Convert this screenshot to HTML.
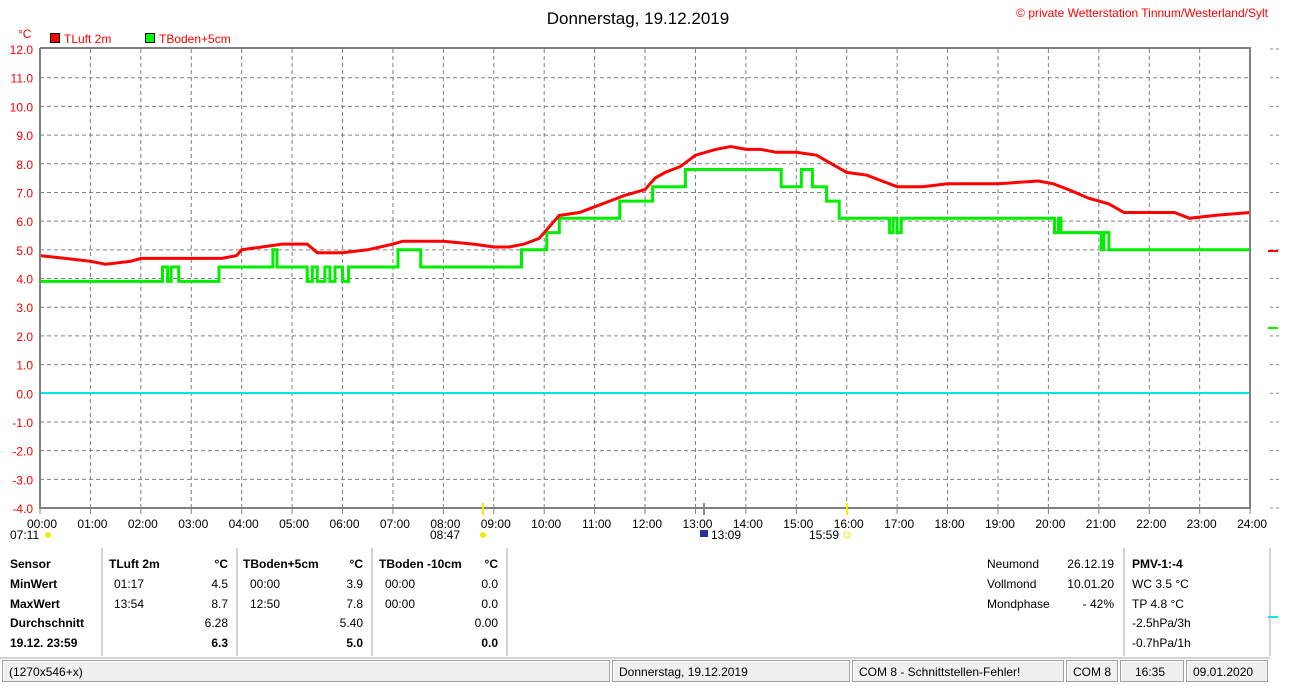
<!DOCTYPE html>
<html><head><meta charset="utf-8"><style>
body{margin:0;background:#fff;width:1310px;height:692px;overflow:hidden;font-family:"Liberation Sans",Arial,sans-serif;position:relative}
.t{position:absolute;font-size:12px;white-space:nowrap;color:#000}
.b{font-weight:bold}
.r{text-align:right}
.sb{position:absolute;top:660px;height:22px;background:#f0f0f0;border:1px solid #a0a0a0;box-shadow:inset 1px 1px 0 #fff;font-size:12px;line-height:22px;padding-left:6px;box-sizing:border-box}
</style></head><body>
<svg width="1310" height="692" style="position:absolute;left:0;top:0" font-family="Liberation Sans, Arial, sans-serif">
<text x="638" y="24" font-size="17" text-anchor="middle">Donnerstag, 19.12.2019</text>
<text x="1268" y="17" font-size="12" fill="#f00" text-anchor="end">© private Wetterstation Tinnum/Westerland/Sylt</text>
<text x="18" y="38" font-size="12" fill="#f00">°C</text>
<rect x="50.5" y="33.5" width="9" height="9" fill="#f00" stroke="#000"/>
<text x="64" y="43" font-size="12" fill="#f00">TLuft 2m</text>
<rect x="145.5" y="33.5" width="9" height="9" fill="#0f0" stroke="#000"/>
<text x="159" y="43" font-size="12" fill="#f00">TBoden+5cm</text>
<g id="grid" stroke="#808080" stroke-dasharray="4,3" stroke-width="1"></g>
<g id="lab"></g>
<line x1="40" y1="393" x2="1250" y2="393" stroke="#00e5e5" stroke-width="2"/>
<polyline id="gr" fill="none" stroke="#00ee00" stroke-width="3"/>
<polyline id="rd" fill="none" stroke="#f00" stroke-width="3"/>
<path d="M40,48V508H1250V48H40" fill="none" stroke="#808080" stroke-width="2"/>
<line x1="483" y1="503" x2="483" y2="515" stroke="#ee0" stroke-width="2"/>
<line x1="847" y1="503" x2="847" y2="515" stroke="#ee0" stroke-width="2"/>
<line x1="704" y1="503" x2="704" y2="515" stroke="#888" stroke-width="2"/>
<circle cx="48" cy="535" r="3" fill="#ee0"/><circle cx="483" cy="535" r="3" fill="#ee0"/><circle cx="847" cy="535" r="3" fill="#fff" stroke="#ee0"/>
<rect x="700" y="530" width="8" height="7" fill="#223399"/>
<text x="10" y="539" font-size="12">07:11</text><text x="430" y="539" font-size="12">08:47</text>
<text x="711" y="539" font-size="12">13:09</text><text x="809" y="539" font-size="12">15:59</text>
<line x1="1268" y1="251" x2="1278" y2="251" stroke="#f00" stroke-width="2"/>
<line x1="1268" y1="328" x2="1278" y2="328" stroke="#0e0" stroke-width="2"/>
<line x1="1268" y1="617" x2="1278" y2="617" stroke="#0ee" stroke-width="2"/>
<g stroke="#aaa"><line x1="102" y1="548" x2="102" y2="656"/><line x1="237" y1="548" x2="237" y2="656"/><line x1="372" y1="548" x2="372" y2="656"/><line x1="507" y1="548" x2="507" y2="656"/><line x1="1124" y1="548" x2="1124" y2="656"/><line x1="1270" y1="548" x2="1270" y2="656"/><line x1="0" y1="658" x2="1270" y2="658"/></g>
</svg>
<div class="t b" style="left:10px;top:557px">Sensor</div>
<div class="t b" style="left:10px;top:577px">MinWert</div>
<div class="t b" style="left:10px;top:597px">MaxWert</div>
<div class="t b" style="left:10px;top:616px">Durchschnitt</div>
<div class="t b" style="left:10px;top:636px">19.12. 23:59</div>
<div class="t b" style="left:109px;top:557px">TLuft 2m</div><div class="t b r" style="left:184px;width:44px;top:557px">°C</div>
<div class="t" style="left:114px;top:577px">01:17</div><div class="t r" style="left:184px;width:44px;top:577px">4.5</div>
<div class="t" style="left:114px;top:597px">13:54</div><div class="t r" style="left:184px;width:44px;top:597px">8.7</div>
<div class="t r" style="left:184px;width:44px;top:616px">6.28</div><div class="t b r" style="left:184px;width:44px;top:636px">6.3</div>
<div class="t b" style="left:243px;top:557px">TBoden+5cm</div><div class="t b r" style="left:319px;width:44px;top:557px">°C</div>
<div class="t" style="left:250px;top:577px">00:00</div><div class="t r" style="left:319px;width:44px;top:577px">3.9</div>
<div class="t" style="left:250px;top:597px">12:50</div><div class="t r" style="left:319px;width:44px;top:597px">7.8</div>
<div class="t r" style="left:319px;width:44px;top:616px">5.40</div><div class="t b r" style="left:319px;width:44px;top:636px">5.0</div>
<div class="t b" style="left:379px;top:557px">TBoden -10cm</div><div class="t b r" style="left:454px;width:44px;top:557px">°C</div>
<div class="t" style="left:385px;top:577px">00:00</div><div class="t r" style="left:454px;width:44px;top:577px">0.0</div>
<div class="t" style="left:385px;top:597px">00:00</div><div class="t r" style="left:454px;width:44px;top:597px">0.0</div>
<div class="t r" style="left:454px;width:44px;top:616px">0.00</div><div class="t b r" style="left:454px;width:44px;top:636px">0.0</div>
<div class="t" style="left:987px;top:557px">Neumond</div><div class="t r" style="left:1050px;width:64px;top:557px">26.12.19</div>
<div class="t" style="left:987px;top:577px">Vollmond</div><div class="t r" style="left:1050px;width:64px;top:577px">10.01.20</div>
<div class="t" style="left:987px;top:597px">Mondphase</div><div class="t r" style="left:1050px;width:64px;top:597px">- 42%</div>
<div class="t b" style="left:1132px;top:557px">PMV-1:-4</div>
<div class="t" style="left:1132px;top:577px">WC 3.5 °C</div>
<div class="t" style="left:1132px;top:597px">TP 4.8 °C</div>
<div class="t" style="left:1132px;top:616px">-2.5hPa/3h</div>
<div class="t" style="left:1132px;top:636px">-0.7hPa/1h</div>
<div class="sb" style="left:2px;width:608px">(1270x546+x)</div>
<div class="sb" style="left:612px;width:238px">Donnerstag, 19.12.2019</div>
<div class="sb" style="left:852px;width:212px">COM 8 - Schnittstellen-Fehler!</div>
<div class="sb" style="left:1066px;width:52px">COM 8</div>
<div class="sb" style="left:1120px;width:64px;padding-left:14px">16:35</div>
<div class="sb" style="left:1186px;width:82px">09.01.2020</div>
<script>
const X=h=>40+h*50.42, Y=v=>49+(12-v)*28.69, ns="http://www.w3.org/2000/svg";
const g=document.getElementById('grid'), lab=document.getElementById('lab');
function el(p,t,a,txt){const e=document.createElementNS(ns,t);for(const k in a)e.setAttribute(k,a[k]);if(txt)e.textContent=txt;p.appendChild(e);}
for(let v=-4;v<=12;v++){const y=Y(v);if(v>-4&&v<12)el(g,'line',{x1:40,y1:y,x2:1250,y2:y});
el(lab,'text',{x:33,y:y+5,'font-size':12,fill:'#f00','text-anchor':'end'},v.toFixed(1));
el(lab,'line',{x1:1270,y1:y,x2:1279,y2:y,stroke:'#888','stroke-dasharray':'3,3'});}
for(let h=0;h<=24;h++){const x=X(h);if(h>0&&h<24)el(g,'line',{x1:x,y1:49,x2:x,y2:508});
el(lab,'line',{x1:x,y1:508,x2:x,y2:514,stroke:'#808080'});
el(lab,'text',{x:x+2,y:528,'font-size':12,'text-anchor':'middle'},(h<10?'0':'')+h+':00');}
const r=[[0,4.8],[0.5,4.7],[1,4.6],[1.3,4.5],[1.8,4.6],[2,4.7],[3.6,4.7],[3.9,4.8],[4,5],[4.4,5.1],[4.8,5.2],[5.3,5.2],[5.5,4.9],[6,4.9],[6.5,5],[7,5.2],[7.2,5.3],[8,5.3],[8.6,5.2],[9,5.1],[9.3,5.1],[9.6,5.2],[9.9,5.4],[10.1,5.8],[10.3,6.2],[10.7,6.3],[11,6.5],[11.3,6.7],[11.6,6.9],[12,7.1],[12.2,7.5],[12.4,7.7],[12.7,7.9],[13,8.3],[13.4,8.5],[13.7,8.6],[14,8.5],[14.3,8.5],[14.6,8.4],[15,8.4],[15.4,8.3],[15.7,8],[16,7.7],[16.4,7.6],[16.7,7.4],[17,7.2],[17.5,7.2],[18,7.3],[19,7.3],[19.8,7.4],[20.1,7.3],[20.4,7.1],[20.8,6.8],[21.2,6.6],[21.5,6.3],[22.5,6.3],[22.8,6.1],[23.3,6.2],[24,6.3]];
document.getElementById('rd').setAttribute('points',r.map(p=>X(p[0]).toFixed(1)+','+Y(p[1]).toFixed(1)).join(' '));
const s=[[0,3.9],[2.43,4.4],[2.53,3.9],[2.6,4.4],[2.75,3.9],[3.55,4.4],[4.62,5],[4.7,4.4],[5.3,3.9],[5.4,4.4],[5.5,3.9],[5.65,4.4],[5.75,3.9],[5.85,4.4],[6.0,3.9],[6.12,4.4],[7.1,5],[7.55,4.4],[9.55,5],[10.05,5.6],[10.3,6.1],[11.5,6.7],[12.15,7.2],[12.8,7.8],[14.7,7.2],[15.1,7.8],[15.32,7.2],[15.6,6.7],[15.85,6.1],[16.85,5.6],[16.92,6.1],[17.0,5.6],[17.08,6.1],[20.12,5.6],[20.2,6.1],[20.25,5.6],[21.0,5.6],[21.05,5],[21.1,5.6],[21.2,5],[24,5]];
let pts=[];for(let i=0;i<s.length;i++){if(i>0)pts.push([s[i][0],s[i-1][1]]);pts.push(s[i]);}
document.getElementById('gr').setAttribute('points',pts.map(p=>X(p[0]).toFixed(1)+','+Y(p[1]).toFixed(1)).join(' '));
</script>
</body></html>
